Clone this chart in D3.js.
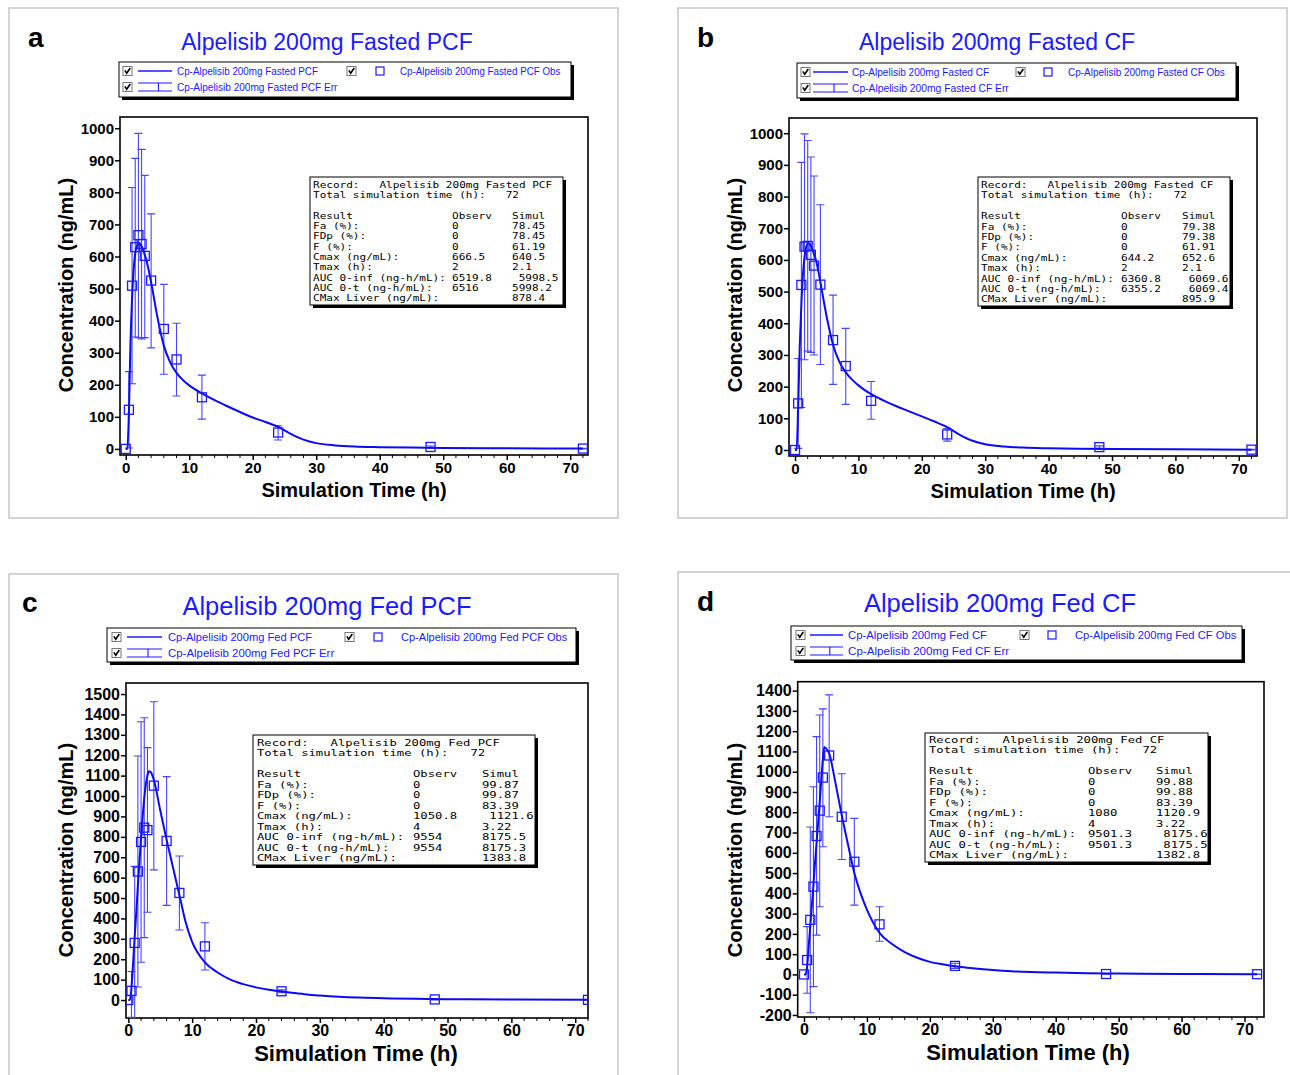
<!DOCTYPE html>
<html>
<head>
<meta charset="utf-8">
<script src="https://cdn.jsdelivr.net/npm/d3@7"></script>
<style>
  body { margin: 0; background: #fff; }
  svg { display: block; font-family: "Liberation Sans", Arial, sans-serif; }
</style>
</head>
<body>
<svg id="chart" width="1290" height="1075"></svg>
<script>
//Data: observed sampling times and values (mean, lower / upper error bar ends)
const obsTime = [0, 0.5, 1, 1.5, 2, 2.5, 3, 4, 6, 8, 12, 24, 48, 72];

const obsConcA = [0, 122, 509, 629, 666.5, 639, 602, 525, 374, 279, 161, 51, 6, 1];
const obsLowA  = [0, 3, 203, 349, 347, 343, 347, 315, 233, 165, 93, 28, 3, 0];
const obsHighA = [0, 241, 815, 906, 984, 934, 853, 733, 513, 392, 230, 72, 9, 2];

const obsConcB = [0, 147, 521, 642, 644.2, 616, 582, 522, 347, 265, 155, 49, 9, 1];
const obsLowB  = [0, 5, 134, 285, 312, 308, 300, 270, 207, 144, 97, 28, 5, 0];
const obsHighB = [0, 289, 908, 998, 977, 925, 865, 774, 489, 384, 216, 68, 13, 2];

const obsConcC = [0, 45, 280, 630, 775, 845, 833, 1050.8, 780, 525, 263, 43, 3, 1];
const obsLowC  = [0, -85, -95, 64, 185, 306, 430, 638, 464, 343, 147, 36, 1, 0];
const obsHighC = [0, 140, 655, 1196, 1364, 1384, 1237, 1462, 1095, 706, 379, 50, 5, 2];

const obsConcD = [0, 71, 269, 433, 683, 808, 971, 1080, 778, 556, 247, 42, 2, 1];
const obsLowD  = [0, -93, -189, -60, 194, 334, 630, 778, 567, 342, 164, 30, 1, 0];
const obsHighD = [0, 236, 727, 926, 1173, 1280, 1310, 1379, 990, 770, 334, 55, 4, 2];

//Simulated plasma curves
const simTime = [0, 0.25, 0.5, 0.75, 1, 1.25, 1.5, 1.75, 2.1, 2.5, 3, 3.22, 3.5, 4, 5, 6, 7, 8, 9, 10,
                 12, 14, 16, 18, 20, 22, 24, 26, 28, 30, 33, 36, 40, 45, 50, 60, 72];
const simConcA = [0, 0, 110, 330, 470, 560, 610, 632, 640.5, 632, 605, 592, 568, 520, 410, 322, 270, 237, 215, 198,
                  173, 152, 133, 115, 98, 84, 69, 47, 29, 18, 11, 7.5, 5.5, 4, 3, 2, 1];
const simConcB = [0, 0, 140, 330, 460, 555, 610, 640, 652.6, 645, 618, 605, 582, 530, 420, 332, 278, 245, 222, 204,
                  176, 156, 138, 122, 106, 90, 72, 48, 29, 18, 11, 7.5, 5.5, 4, 3, 2, 1];
const simConcC = [0, 0, 60, 180, 310, 430, 560, 680, 840, 990, 1100, 1121.6, 1118, 1080, 930, 785, 650, 515, 380, 285,
                  185, 135, 100, 78, 62, 50, 42, 34, 27, 22, 16, 12, 9, 6, 4.5, 2.5, 1.5];
const simConcD = [0, 0, 40, 140, 240, 340, 440, 550, 690, 850, 1060, 1120.9, 1115, 1090, 945, 785, 640, 500, 400, 320,
                  205, 150, 110, 82, 62, 50, 40, 33, 27, 22, 16, 12, 9, 6, 4.5, 2.5, 1.5];

//Tick labels
const xTicks = [0, 10, 20, 30, 40, 50, 60, 70];
const yTicksAB = [0, 100, 200, 300, 400, 500, 600, 700, 800, 900, 1000];
const yTicksC = [0, 100, 200, 300, 400, 500, 600, 700, 800, 900, 1000, 1100, 1200, 1300, 1400, 1500];
const yTicksD = [-200, -100, 0, 100, 200, 300, 400, 500, 600, 700, 800, 900, 1000, 1100, 1200, 1300, 1400];

//Result box
const infoLabels = ['Fa (%):', 'FDp (%):', 'F (%):', 'Cmax (ng/mL):', 'Tmax (h):',
                    'AUC 0-inf (ng-h/mL):', 'AUC 0-t (ng-h/mL):', 'CMax Liver (ng/mL):'];
const infoObsA = ['0', '0', '0', '666.5', '2', '6519.8', '6516', ''];
const infoSimA = ['78.45', '78.45', '61.19', '640.5', '2.1', ' 5998.5', '5998.2', '878.4'];
const infoObsB = ['0', '0', '0', '644.2', '2', '6360.8', '6355.2', ''];
const infoSimB = ['79.38', '79.38', '61.91', '652.6', '2.1', ' 6069.6', ' 6069.4', '895.9'];
const infoObsC = ['0', '0', '0', '1050.8', '4', '9554', '9554', ''];
const infoSimC = ['99.87', '99.87', '83.39', ' 1121.6', '3.22', '8175.5', '8175.3', '1383.8'];
const infoObsD = ['0', '0', '0', '1080', '4', '9501.3', '9501.3', ''];
const infoSimD = ['99.88', '99.88', '83.39', '1120.9', '3.22', ' 8175.6', ' 8175.5', '1382.8'];

const names = ['Alpelisib 200mg Fasted PCF', 'Alpelisib 200mg Fasted CF',
               'Alpelisib 200mg Fed PCF', 'Alpelisib 200mg Fed CF'];

////////////////////////////////////////////////////////
//Layout of each panel (pixels)
const layouts = [
  { border: [9, 8, 618, 518], letter: [28, 47], title: [327, 50, 23],
    legend: { box: [119, 62, 571, 97], rows: [71, 87], cb1: 127.5, line: [138, 172], t1: 177, cb2: 351.5, mark: 380, t2: 400, charW: 4.86, font: 10.5 },
    frame: [120, 117, 588, 455], xDomain: [-0.9, 72.8], yDomain: [-19, 1035], tickFont: 15,
    xLabel: [354, 497, 20], yLabel: [66, 285, 20],
    info: { box: [310, 177, 563, 305], x: 313, obsX: 452, simX: 512, y0: 187.5, dy: 10.35, sx: 1.2 } },
  { border: [678, 8, 1287, 518], letter: [697, 47], title: [997, 50, 23],
    legend: { box: [797, 63, 1236, 98], rows: [72, 88], cb1: 805.5, line: [813, 848], t1: 852, cb2: 1020.5, mark: 1048, t2: 1068, charW: 4.9, font: 10.5 },
    frame: [789, 118, 1257, 456], xDomain: [-0.95, 72.87], yDomain: [-19, 1048], tickFont: 15,
    xLabel: [1023, 498, 20], yLabel: [735, 285, 20],
    info: { box: [978, 177, 1230, 306], x: 981, obsX: 1121, simX: 1182, y0: 188, dy: 10.4, sx: 1.2 } },
  { border: [9, 574, 618, 1090], letter: [22, 612], title: [327, 615, 25.5],
    legend: { box: [107, 628, 576, 662], rows: [637, 653], cb1: 116.5, line: [127, 162], t1: 168, cb2: 349.5, mark: 378, t2: 401, charW: 5.54, font: 11.5 },
    frame: [126, 683, 588, 1018], xDomain: [-0.36, 72], yDomain: [-88, 1554], tickFont: 16,
    xLabel: [356, 1061, 22], yLabel: [66, 850, 20],
    info: { box: [253, 735, 535, 865], x: 257, obsX: 413, simX: 482, y0: 746, dy: 10.45, sx: 1.33 } },
  { border: [678, 572, 1300, 1090], letter: [697, 611], title: [1000, 612, 25.5],
    legend: { box: [791, 626, 1242, 660], rows: [635, 651], cb1: 800.5, line: [810, 843], t1: 848, cb2: 1024.5, mark: 1052, t2: 1075, charW: 5.56, font: 11.5 },
    frame: [797.7, 681.7, 1264, 1017], xDomain: [-1.0, 73.1], yDomain: [-210, 1444], tickFont: 16,
    xLabel: [1028, 1060, 22], yLabel: [735, 850, 20],
    info: { box: [925, 733, 1208, 862], x: 929, obsX: 1088, simX: 1156, y0: 742.5, dy: 10.5, sx: 1.33 } }
];

const panels = [
  { letter: 'a', name: names[0], conc: obsConcA, lo: obsLowA, hi: obsHighA, sim: simConcA, yTicks: yTicksAB, iObs: infoObsA, iSim: infoSimA },
  { letter: 'b', name: names[1], conc: obsConcB, lo: obsLowB, hi: obsHighB, sim: simConcB, yTicks: yTicksAB, iObs: infoObsB, iSim: infoSimB },
  { letter: 'c', name: names[2], conc: obsConcC, lo: obsLowC, hi: obsHighC, sim: simConcC, yTicks: yTicksC, iObs: infoObsC, iSim: infoSimC },
  { letter: 'd', name: names[3], conc: obsConcD, lo: obsLowD, hi: obsHighD, sim: simConcD, yTicks: yTicksD, iObs: infoObsD, iSim: infoSimD }
];

const BLUE = '#1a1aff';
const ERR = '#4646ff';
const MONO = '"DejaVu Sans Mono", "Liberation Mono", monospace';
const MONO_SIZE = 9.2;

const svg = d3.select('#chart');

//monospace columns need their spaces kept
const keepSpaces = s => s.replace(/ /g, '\u00a0');

function shadowBox(g, b, shadow) {
  g.append('rect')
    .attr('x', b[0] + shadow).attr('y', b[1] + shadow)
    .attr('width', b[2] - b[0]).attr('height', b[3] - b[1])
    .attr('fill', '#000');
  g.append('rect')
    .attr('x', b[0]).attr('y', b[1])
    .attr('width', b[2] - b[0]).attr('height', b[3] - b[1])
    .attr('fill', '#fff').attr('stroke', '#000').attr('stroke-width', 1);
}

function checkbox(g, cx, cy) {
  g.append('rect')
    .attr('x', cx - 4.5).attr('y', cy - 4.5).attr('width', 9).attr('height', 9)
    .attr('fill', '#fff').attr('stroke', '#777').attr('stroke-width', 1);
  g.append('path')
    .attr('d', `M${cx - 2.6},${cy - 0.6} L${cx - 0.8},${cy + 2.2} L${cx + 2.8},${cy - 3}`)
    .attr('fill', 'none').attr('stroke', '#000').attr('stroke-width', 1.6);
}

function legendText(g, x, y, str, L) {
  g.append('text')
    .attr('x', x).attr('y', y + L.font * 0.36)
    .attr('fill', BLUE)
    .attr('font-size', L.font)
    .attr('textLength', str.length * L.charW)
    .attr('lengthAdjust', 'spacingAndGlyphs')
    .text(str);
}

function drawLegend(g, p, L) {
  shadowBox(g, L.box, 3);
  const [r1, r2] = L.rows;
  checkbox(g, L.cb1, r1);
  g.append('line').attr('x1', L.line[0]).attr('x2', L.line[1]).attr('y1', r1).attr('y2', r1)
    .attr('stroke', BLUE).attr('stroke-width', 1.6);
  legendText(g, L.t1, r1, 'Cp-' + p.name, L);

  checkbox(g, L.cb2, r1);
  g.append('rect').attr('x', L.mark - 4).attr('y', r1 - 4).attr('width', 8).attr('height', 8)
    .attr('fill', 'none').attr('stroke', BLUE).attr('stroke-width', 1.2);
  legendText(g, L.t2, r1, 'Cp-' + p.name + ' Obs', L);

  checkbox(g, L.cb1, r2);
  const mid = L.line[0] + (L.line[1] - L.line[0]) * 0.6;
  g.append('path')
    .attr('d', `M${L.line[0]},${r2 - 4} H${L.line[1]} M${mid},${r2 - 4} V${r2 + 4} M${L.line[0]},${r2 + 4} H${L.line[1]}`)
    .attr('fill', 'none').attr('stroke', BLUE).attr('stroke-width', 1.1);
  legendText(g, L.t1, r2, 'Cp-' + p.name + ' Err', L);
}

function drawInfo(g, p, I) {
  shadowBox(g, I.box, 3);
  const t = g.append('g')
    .attr('font-family', MONO)
    .attr('font-size', MONO_SIZE)
    .attr('fill', '#000');
  const put = (x, row, str) => t.append('text')
    .attr('transform', `translate(${x},${I.y0 + row * I.dy}) scale(${I.sx},1)`)
    .text(keepSpaces(str));

  put(I.x, 0, 'Record:   ' + p.name);
  put(I.x, 1, 'Total simulation time (h):   72');
  put(I.x, 3, 'Result');
  put(I.obsX, 3, 'Observ');
  put(I.simX, 3, 'Simul');
  infoLabels.forEach((lab, i) => {
    put(I.x, 4 + i, lab);
    put(I.obsX, 4 + i, p.iObs[i]);
    put(I.simX, 4 + i, p.iSim[i]);
  });
}

function drawPanel(p, i) {
  const L = layouts[i];
  const g = svg.append('g');

  g.append('rect')
    .attr('x', L.border[0]).attr('y', L.border[1])
    .attr('width', L.border[2] - L.border[0]).attr('height', L.border[3] - L.border[1])
    .attr('fill', 'none').attr('stroke', '#c6c6c6').attr('stroke-width', 1.5);

  g.append('text')
    .attr('x', L.letter[0]).attr('y', L.letter[1])
    .attr('font-size', 28).attr('font-weight', 'bold')
    .text(p.letter);

  g.append('text')
    .attr('x', L.title[0]).attr('y', L.title[1])
    .attr('text-anchor', 'middle')
    .attr('font-size', L.title[2])
    .attr('fill', BLUE)
    .text(p.name);

  drawLegend(g, p, L.legend);

  const [fl, ft, fr, fb] = L.frame;
  const x = d3.scaleLinear().domain(L.xDomain).range([fl, fr]);
  const y = d3.scaleLinear().domain(L.yDomain).range([fb, ft]);

  const clipId = 'clip-' + p.letter;
  g.append('clipPath').attr('id', clipId)
    .append('rect').attr('x', fl).attr('y', ft).attr('width', fr - fl).attr('height', fb - ft);

  //axes
  const xAxis = g.append('g')
    .attr('transform', `translate(0,${fb})`)
    .call(d3.axisBottom(x).tickValues(xTicks).tickFormat(d => String(d)).tickSize(5).tickPadding(2));
  xAxis.select('.domain').remove();
  xAxis.attr('font-size', L.tickFont).attr('font-weight', 'bold').attr('font-family', null);
  xAxis.selectAll('line').attr('stroke-width', 1.5);

  const minor = d3.range(0, 73, 2).filter(v => v % 10 !== 0 && v <= L.xDomain[1]);
  g.append('g').selectAll('line').data(minor).join('line')
    .attr('x1', d => x(d)).attr('x2', d => x(d))
    .attr('y1', fb).attr('y2', fb + 3)
    .attr('stroke', '#000').attr('stroke-width', 1);

  const yAxis = g.append('g')
    .attr('transform', `translate(${fl},0)`)
    .call(d3.axisLeft(y).tickValues(p.yTicks).tickFormat(d => String(d)).tickSize(5).tickPadding(1));
  yAxis.select('.domain').remove();
  yAxis.attr('font-size', L.tickFont).attr('font-weight', 'bold').attr('font-family', null);
  yAxis.selectAll('line').attr('stroke-width', 1.5);

  g.append('rect')
    .attr('x', fl).attr('y', ft).attr('width', fr - fl).attr('height', fb - ft)
    .attr('fill', 'none').attr('stroke', '#000').attr('stroke-width', 1.6);

  g.append('text')
    .attr('x', L.xLabel[0]).attr('y', L.xLabel[1])
    .attr('text-anchor', 'middle')
    .attr('font-size', L.xLabel[2]).attr('font-weight', 'bold')
    .text('Simulation Time (h)');

  g.append('text')
    .attr('transform', `translate(${L.yLabel[0]},${L.yLabel[1]}) rotate(-90)`)
    .attr('text-anchor', 'middle')
    .attr('dy', '0.35em')
    .attr('font-size', L.yLabel[2]).attr('font-weight', 'bold')
    .text('Concentration (ng/mL)');

  //marks
  const plot = g.append('g').attr('clip-path', `url(#${clipId})`);

  const obs = obsTime.map((t, k) => ({ t: t, c: p.conc[k], lo: p.lo[k], hi: p.hi[k] }));

  const eb = plot.append('g').attr('stroke', ERR).attr('stroke-width', 1.1).attr('fill', 'none');
  eb.selectAll('path').data(obs.filter(d => d.hi > d.lo)).join('path')
    .attr('d', d => {
      const cx = x(d.t), y1 = y(d.hi), y0 = y(d.lo);
      return `M${cx - 4},${y1} H${cx + 4} M${cx},${y1} V${y0} M${cx - 4},${y0} H${cx + 4}`;
    });

  const line = d3.line()
    .x((d, k) => x(simTime[k]))
    .y(d => y(d))
    .curve(d3.curveMonotoneX);
  plot.append('path')
    .datum(p.sim)
    .attr('d', line)
    .attr('fill', 'none')
    .attr('stroke', '#0a0af5')
    .attr('stroke-width', 2);

  plot.append('g').selectAll('rect').data(obs).join('rect')
    .attr('x', d => x(d.t) - 4.5).attr('y', d => y(d.c) - 4.5)
    .attr('width', 9).attr('height', 9)
    .attr('fill', 'none').attr('stroke', BLUE).attr('stroke-width', 1.3);

  drawInfo(g, p, L.info);
}

panels.forEach(drawPanel);
</script>
</body>
</html>
